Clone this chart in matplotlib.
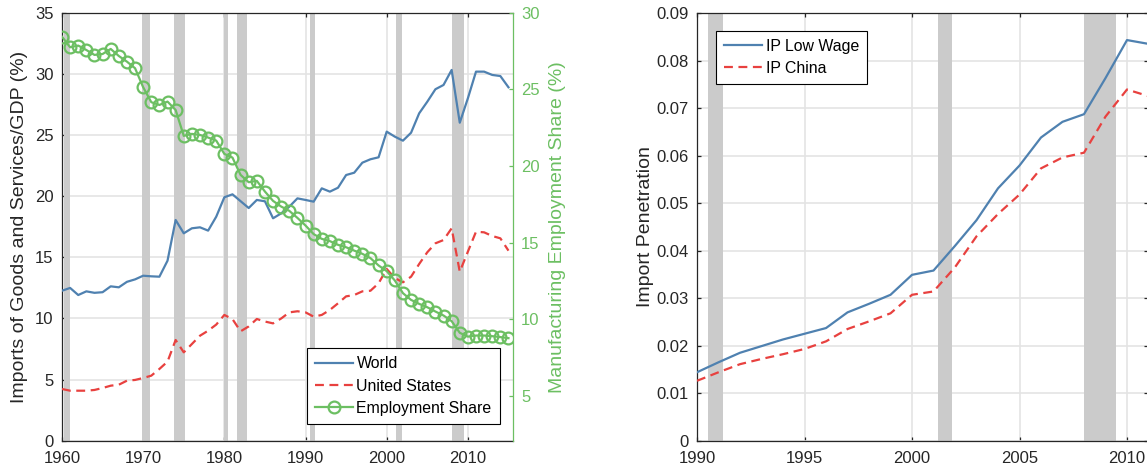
import numpy as np
import matplotlib.pyplot as plt

plt.rcParams['font.family'] = ['Liberation Sans', 'DejaVu Sans']
plt.rcParams['font.size'] = 12

BLUE = '#4f81b0'
RED = '#e8413f'
GREEN = '#6cbf62'
GREY = '#cbcbcb'
INK = '#262626'

# annual series, 1960-2015
years = np.arange(1960, 2016)
world_imports = [12.27, 12.50, 11.92, 12.22, 12.10, 12.15, 12.63, 12.55, 13.00, 13.20,
                 13.50, 13.45, 13.42, 14.73, 18.06, 16.97, 17.38, 17.46, 17.19, 18.33,
                 19.92, 20.16, 19.60, 19.04, 19.70, 19.59, 18.20, 18.60, 19.15, 19.83,
                 19.70, 19.56, 20.65, 20.38, 20.70, 21.74, 21.93, 22.75, 23.03, 23.19,
                 25.29, 24.88, 24.55, 25.20, 26.79, 27.74, 28.76, 29.11, 30.34, 26.02,
                 28.02, 30.20, 30.20, 29.93, 29.84, 28.92]
us_imports = [4.23, 4.09, 4.09, 4.09, 4.15, 4.31, 4.50, 4.58, 4.91, 4.97,
              5.13, 5.32, 5.87, 6.47, 8.24, 7.23, 7.91, 8.59, 9.00, 9.50,
              10.29, 9.95, 8.95, 9.35, 9.96, 9.75, 9.60, 10.00, 10.50, 10.59,
              10.50, 10.15, 10.29, 10.70, 11.24, 11.81, 11.92, 12.22, 12.27, 12.88,
              14.05, 13.31, 12.96, 13.42, 14.46, 15.42, 16.15, 16.42, 17.38, 13.83,
              15.47, 17.10, 17.05, 16.75, 16.56, 15.55]
mfg_share = [28.45, 27.76, 27.87, 27.58, 27.26, 27.32, 27.65, 27.19, 26.82, 26.39,
             25.15, 24.17, 23.99, 24.21, 23.66, 21.97, 22.10, 22.03, 21.86, 21.66,
             20.79, 20.55, 19.42, 18.94, 19.03, 18.33, 17.72, 17.35, 17.07, 16.61,
             16.11, 15.55, 15.24, 15.09, 14.85, 14.69, 14.47, 14.26, 13.98, 13.50,
             13.13, 12.52, 11.69, 11.25, 10.99, 10.77, 10.49, 10.23, 9.86, 9.10,
             8.85, 8.92, 8.92, 8.88, 8.82, 8.75]

# import penetration, 1990-2011
ip_years = np.arange(1990, 2012)
ip_low_wage = [0.0144, 0.0165, 0.0185, 0.0199, 0.0213, 0.0225, 0.0237, 0.0270, 0.0288, 0.0307,
               0.0349, 0.0358, 0.0410, 0.0464, 0.0531, 0.0579, 0.0638, 0.0671, 0.0687, 0.0763,
               0.0843, 0.0835]
ip_china = [0.0126, 0.0144, 0.0161, 0.0172, 0.0182, 0.0193, 0.0209, 0.0235, 0.0251, 0.0268,
            0.0307, 0.0314, 0.0365, 0.0430, 0.0477, 0.0518, 0.0573, 0.0596, 0.0606, 0.0682,
            0.0739, 0.0725]

# NBER recession periods (start, end)
recessions = [(1960.25, 1961.0), (1969.9, 1970.85), (1973.8, 1975.1), (1979.95, 1980.5),
              (1981.5, 1982.85), (1990.5, 1991.2), (2001.2, 2001.85), (2008.0, 2009.5)]

left_xticks = [1960, 1970, 1980, 1990, 2000, 2010]
left_yticks = [0, 5, 10, 15, 20, 25, 30, 35]
share_ticks = [5, 10, 15, 20, 25, 30]
right_xticks = [1990, 1995, 2000, 2005, 2010]
right_yticks = [0, 0.01, 0.02, 0.03, 0.04, 0.05, 0.06, 0.07, 0.08, 0.09]
right_ylabels = ['0', '0.01', '0.02', '0.03', '0.04', '0.05', '0.06', '0.07', '0.08', '0.09']

LABEL_SIZE = 14
LEG = dict(fancybox=False, edgecolor='black', framealpha=1, borderpad=0.5, fontsize=11.4,
           handlelength=2.4, handletextpad=0.25, labelspacing=0.45, borderaxespad=0)


def style_axes(ax):
    ax.set_axisbelow(True)
    ax.grid(True, color='#e4e4e4', linewidth=1.2)
    for s in ax.spines.values():
        s.set_color(INK)
        s.set_linewidth(0.9)
    ax.tick_params(direction='in', length=3, width=0.9, colors=INK, labelcolor=INK)
    ax.tick_params(axis='x', pad=7.5)
    ax.tick_params(axis='y', pad=6)


def shade(ax):
    for a, b in recessions:
        ax.axvspan(a, b, color=GREY, linewidth=0, zorder=1)


fig = plt.figure(figsize=(11.47, 4.74), dpi=100)

# left panel: imports share of GDP with manufacturing employment share
ax = fig.add_axes([0.05405, 0.0703, 0.3935, 0.9023])
style_axes(ax)
shade(ax)
l1, = ax.plot(years, world_imports, color=BLUE, lw=1.6, zorder=3, label='World')
l2, = ax.plot(years, us_imports, color=RED, lw=1.6, dashes=(4, 2.5), zorder=3,
              label='United States')
ax.set_xlim(1960, 2015.6)
ax.set_ylim(0, 35)
ax.set_xticks(left_xticks)
ax.set_yticks(left_yticks)
ax.tick_params(top=True, right=False)
ax.spines['right'].set_visible(False)
ax.set_ylabel('Imports of Goods and Services/GDP (%)', color=INK, fontsize=LABEL_SIZE,
              labelpad=5)

ax2 = ax.twinx()
l3, = ax2.plot(years, mfg_share, color=GREEN, lw=1.6, marker='o', ms=8.5, mew=1.6,
               mfc='none', label='Employment Share', zorder=4)
ax2.set_ylim(2.05, 30)
ax2.set_yticks(share_ticks)
ax2.tick_params(axis='y', direction='in', length=3, width=0.9, colors=GREEN, pad=5.5)
for name in ['left', 'top', 'bottom']:
    ax2.spines[name].set_visible(False)
ax2.spines['right'].set_color(GREEN)
ax2.spines['right'].set_linewidth(0.9)
ax2.set_ylabel('Manufacturing Employment Share (%)', color=GREEN, fontsize=LABEL_SIZE,
               labelpad=7)

leg = ax2.legend(handles=[l1, l2, l3], loc='lower left', bbox_to_anchor=(0.542, 0.04), **LEG)
leg.get_frame().set_linewidth(0.8)

# right panel: import penetration
bx = fig.add_axes([0.6077, 0.0703, 0.3936, 0.9023])
style_axes(bx)
shade(bx)
bx.plot(ip_years, ip_low_wage, color=BLUE, lw=1.6, zorder=3, label='IP Low Wage')
bx.plot(ip_years, ip_china, color=RED, lw=1.6, dashes=(4, 2.5), zorder=3, label='IP China')
bx.set_xlim(1990, 2011)
bx.set_ylim(0, 0.09)
bx.set_xticks(right_xticks)
bx.set_yticks(right_yticks)
bx.set_yticklabels(right_ylabels)
bx.tick_params(top=True, right=True)
bx.set_ylabel('Import Penetration', color=INK, fontsize=LABEL_SIZE, labelpad=1.5)
leg2 = bx.legend(loc='upper left', bbox_to_anchor=(0.0414, 0.958), **LEG)
leg2.get_frame().set_linewidth(0.8)

fig.savefig('out.png', dpi=100)
